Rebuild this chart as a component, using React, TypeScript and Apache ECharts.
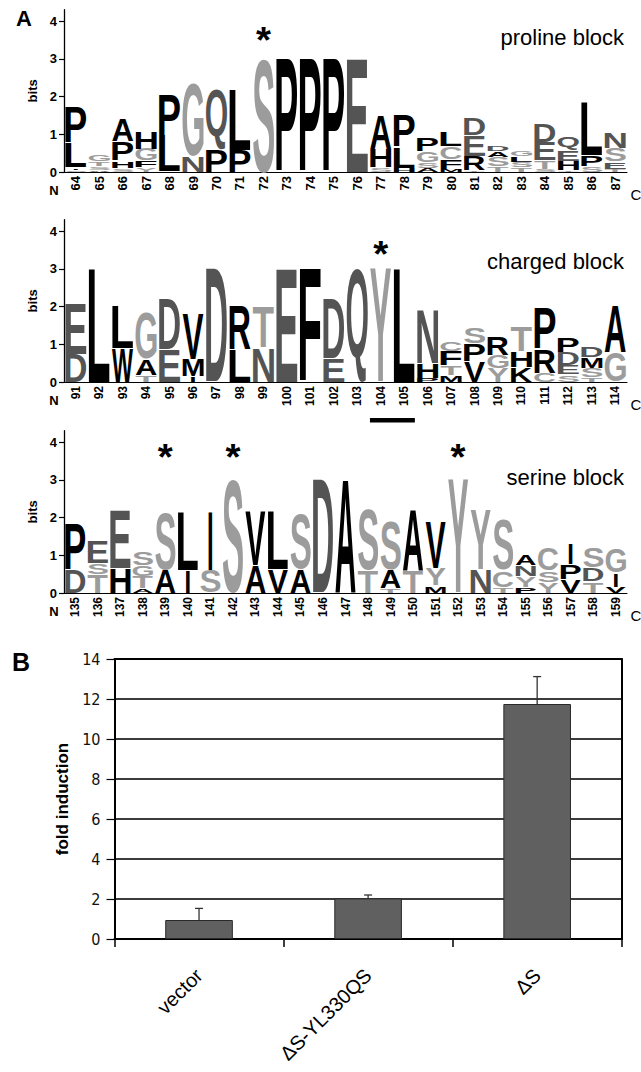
import React, { useEffect, useRef } from 'react';
import * as echarts from 'echarts';

const SANS = "'Liberation Sans', Arial, Helvetica, sans-serif";
const NARROW = "'Liberation Sans Narrow', 'DejaVu Sans Condensed', 'Liberation Sans', sans-serif";
const AMINO = 'ACDEFGHIKLMNPQRSTVWY*';

type Stack = [string, number][];

// ---------- Panel A: sequence logos (letter, height in bits; bottom to top) ----------
const prolinePositions = ['64', '65', '66', '67', '68', '69', '70', '71', '72', '73', '74', '75', '76', '77', '78', '79', '80', '81', '82', '83', '84', '85', '86', '87'];
const prolineStacks: Stack[] = [
  [['S', 0.06], ['I', 0.06], ['L', 0.66], ['P', 0.93]],
  [['A', 0.06], ['S', 0.1], ['T', 0.12], ['G', 0.2]],
  [['S', 0.1], ['H', 0.2], ['P', 0.5], ['A', 0.6]],
  [['Y', 0.12], ['F', 0.18], ['G', 0.32], ['H', 0.45]],
  [['L', 0.95], ['P', 1.07]],
  [['N', 0.42], ['G', 1.93]],
  [['P', 0.6], ['Q', 1.6]],
  [['P', 0.6], ['L', 1.62]],
  [['S', 3.02]],
  [['P', 3.02]],
  [['P', 3.02]],
  [['P', 3.02]],
  [['E', 3.02]],
  [['S', 0.12], ['H', 0.5], ['A', 0.9]],
  [['H', 0.12], ['L', 0.55], ['P', 0.85]],
  [['A', 0.1], ['S', 0.15], ['G', 0.3], ['P', 0.35]],
  [['M', 0.08], ['F', 0.27], ['C', 0.32], ['L', 0.38]],
  [['T', 0.05], ['R', 0.38], ['E', 0.55], ['D', 0.47]],
  [['T', 0.15], ['S', 0.25], ['A', 0.15], ['D', 0.15]],
  [['T', 0.12], ['S', 0.15], ['L', 0.15], ['G', 0.15]],
  [['S', 0.08], ['T', 0.22], ['E', 0.5], ['D', 0.5]],
  [['T', 0.06], ['H', 0.24], ['E', 0.28], ['Q', 0.38]],
  [['S', 0.15], ['P', 0.3], ['L', 1.4]],
  [['T', 0.08], ['E', 0.2], ['S', 0.35], ['N', 0.42]],
];
const prolineStars: [string, number][] = [['72', 3.63]];

const chargedPositions = ['91', '92', '93', '94', '95', '96', '97', '98', '99', '100', '101', '102', '103', '104', '105', '106', '107', '108', '109', '110', '111', '112', '113', '114'];
const chargedStacks: Stack[] = [
  [['D', 0.75], ['E', 1.33]],
  [['L', 3.02]],
  [['W', 0.9], ['L', 1.14]],
  [['T', 0.18], ['A', 0.42], ['G', 1.25]],
  [['E', 0.85], ['D', 1.35]],
  [['I', 0.15], ['M', 0.45], ['V', 1.2]],
  [['D', 3.02]],
  [['L', 0.88], ['R', 1.18]],
  [['N', 0.92], ['T', 1.08]],
  [['E', 3.02]],
  [['F', 3.02]],
  [['E', 0.62], ['D', 1.58]],
  [['Q', 3.02]],
  [['Y', 3.02]],
  [['L', 3.02]],
  [['P', 0.12], ['H', 0.38], ['N', 1.43]],
  [['M', 0.18], ['T', 0.27], ['F', 0.38], ['C', 0.27]],
  [['V', 0.55], ['P', 0.47], ['S', 0.45]],
  [['Y', 0.38], ['G', 0.35], ['R', 0.5]],
  [['K', 0.38], ['H', 0.42], ['T', 0.68]],
  [['C', 0.25], ['R', 0.62], ['P', 1.08]],
  [['S', 0.2], ['E', 0.25], ['D', 0.35], ['P', 0.4]],
  [['T', 0.12], ['S', 0.25], ['M', 0.28], ['D', 0.3]],
  [['G', 0.8], ['A', 1.25]],
];
const chargedStars: [string, number][] = [['104', 3.54]];
const chargedUnderline: [string, string] = ['104', '105'];

const serinePositions = ['135', '136', '137', '138', '139', '140', '141', '142', '143', '144', '145', '146', '147', '148', '149', '150', '151', '152', '153', '154', '155', '156', '157', '158', '159'];
const serineStacks: Stack[] = [
  [['D', 0.62], ['P', 1.23]],
  [['T', 0.5], ['S', 0.3], ['E', 0.6]],
  [['H', 0.66], ['E', 1.54]],
  [['A', 0.12], ['T', 0.33], ['G', 0.3], ['S', 0.38]],
  [['A', 0.62], ['S', 1.5]],
  [['I', 0.6], ['L', 1.55]],
  [['S', 0.6], ['I', 1.55]],
  [['S', 3.02]],
  [['A', 0.75], ['V', 1.43]],
  [['V', 0.62], ['L', 1.55]],
  [['A', 0.62], ['S', 1.48]],
  [['D', 3.02]],
  [['A', 3.02]],
  [['T', 0.6], ['S', 1.62]],
  [['T', 0.12], ['A', 0.5], ['S', 1.3]],
  [['T', 0.6], ['A', 1.62]],
  [['M', 0.2], ['Y', 0.45], ['V', 1.25]],
  [['Y', 3.02]],
  [['N', 0.62], ['Y', 1.58]],
  [['T', 0.15], ['C', 0.45], ['S', 1.35]],
  [['P', 0.16], ['Y', 0.3], ['N', 0.28], ['A', 0.28]],
  [['Y', 0.3], ['S', 0.3], ['C', 0.6]],
  [['V', 0.36], ['P', 0.4], ['I', 0.57]],
  [['T', 0.3], ['D', 0.37], ['S', 0.53]],
  [['V', 0.17], ['I', 0.37], ['G', 0.65]],
];
const serineStars: [string, number][] = [['139', 3.75], ['142', 3.75], ['152', 3.75]];

const logoTitles = ['proline block', 'charged block', 'serine block'];
const bitTicks = [0, 1, 2, 3, 4];

// ---------- Panel B: bar chart ----------
const barCategories = ['vector', 'ΔS-YL330QS', 'ΔS'];
const barValues = [0.95, 2.03, 11.75];
const barErrors = [0.58, 0.17, 1.37];

// ---------- helpers ----------
const DARK_SET = 'DEQN';
const LIGHT_SET = 'SGTYC';
function letterColor(ch: string) {
  if (DARK_SET.includes(ch)) return '#545454';
  if (LIGHT_SET.includes(ch)) return '#9c9c9c';
  return '#000000';
}

const GLYPH_FONT = `bold 100px ${SANS}`;
let alphaOffset: number | null = null; // alphabetic baseline position below the SVG 'central' baseline
function getAlphaOffset() {
  if (alphaOffset != null) return alphaOffset;
  let off = 0;
  try {
    const ns = 'http://www.w3.org/2000/svg';
    const svg = document.createElementNS(ns, 'svg');
    svg.setAttribute('width', '300');
    svg.setAttribute('height', '300');
    (svg as any).style.position = 'absolute';
    (svg as any).style.left = '-2000px';
    (svg as any).style.top = '0px';
    const mk = (db: string) => {
      const t = document.createElementNS(ns, 'text');
      t.setAttribute('x', '0');
      t.setAttribute('y', '150');
      t.setAttribute('dominant-baseline', db);
      t.setAttribute('style', `font: ${GLYPH_FONT}`);
      t.textContent = 'H';
      svg.appendChild(t);
      return t as SVGTextElement;
    };
    const a = mk('alphabetic');
    const c = mk('central');
    document.body.appendChild(svg);
    off = c.getBBox().y - a.getBBox().y;
    document.body.removeChild(svg);
  } catch (e) {
    off = 34;
  }
  alphaOffset = off;
  return off;
}

const glyphCache: Record<string, { L: number; R: number; A: number; D: number }> = {};
function glyphBox(ch: string) {
  if (!glyphCache[ch]) {
    const ctx = document.createElement('canvas').getContext('2d') as CanvasRenderingContext2D;
    ctx.font = GLYPH_FONT;
    ctx.textBaseline = 'alphabetic';
    ctx.textAlign = 'left';
    const m = ctx.measureText(ch);
    glyphCache[ch] = {
      L: m.actualBoundingBoxLeft,
      R: m.actualBoundingBoxRight,
      A: m.actualBoundingBoxAscent,
      D: m.actualBoundingBoxDescent,
    };
  }
  return glyphCache[ch];
}

function fitGlyph(ch: string, left: number, top: number, w: number, h: number, fill: string) {
  const g = glyphBox(ch);
  const c = getAlphaOffset();
  const sx = w / Math.max(1, g.L + g.R);
  const sy = h / Math.max(1, g.A + g.D);
  return {
    type: 'text',
    x: left + g.L * sx,
    y: top - (c - g.A) * sy,
    scaleX: sx,
    scaleY: sy,
    style: { text: ch, font: GLYPH_FONT, fill, align: 'left', verticalAlign: 'middle' },
  };
}

function renderLetter(params: any, api: any) {
  const col = api.value(0);
  const y0 = api.value(1);
  const y1 = api.value(2);
  const ch = AMINO[api.value(3)];
  const b = api.coord([col, y0]);
  const t = api.coord([col, y1]);
  const band = api.size([1, 0])[0];
  const w = ch === 'I' ? band * 0.17 : band * 0.9;
  const top = t[1] + 0.7;
  const h = b[1] - top;
  if (h < 0.4) return null;
  return fitGlyph(ch, b[0] - w / 2, top, w, h, letterColor(ch));
}

function renderStar(params: any, api: any) {
  const c = api.coord([api.value(0), api.value(1)]);
  return fitGlyph('*', c[0] - 7.5, c[1] - 7, 15, 14, '#000');
}

function renderUnderline(params: any, api: any) {
  const a = api.coord([api.value(0), 0]);
  const b = api.coord([api.value(1), 0]);
  const band = api.size([1, 0])[0];
  return {
    type: 'rect',
    shape: { x: a[0] - band / 2 + 1, y: a[1] + 36, width: b[0] - a[0] + band - 2, height: 4.5 },
    style: { fill: '#000' },
  };
}

function renderError(params: any, api: any) {
  const i = api.value(0);
  const p0 = api.coord([i, api.value(1)]);
  const p1 = api.coord([i, api.value(2)]);
  const st = { stroke: '#333', lineWidth: 1.3 };
  return {
    type: 'group',
    children: [
      { type: 'line', shape: { x1: p0[0], y1: p0[1], x2: p1[0], y2: p1[1] }, style: st },
      { type: 'line', shape: { x1: p1[0] - 4, y1: p1[1], x2: p1[0] + 4, y2: p1[1] }, style: st },
    ],
  };
}

function stackData(stacks: Stack[]) {
  const data: number[][] = [];
  stacks.forEach((stack, i) => {
    let y = 0;
    stack.forEach(([l, h]) => {
      data.push([i, y, y + h, AMINO.indexOf(l)]);
      y += h;
    });
  });
  return data;
}

const LOGO_BASELINES = [172, 382, 593];
const LOGO_H = 162.3;
const LOGO_FONTS = [13, 12, 12];

export default function App() {
  const ref = useRef<HTMLDivElement>(null);
  useEffect(() => {
    if (!ref.current) return;
    getAlphaOffset();
    const chart = echarts.init(ref.current, null, { renderer: 'svg' });
    const logos = [
      { pos: prolinePositions, stacks: prolineStacks, stars: prolineStars },
      { pos: chargedPositions, stacks: chargedStacks, stars: chargedStars },
      { pos: serinePositions, stacks: serineStacks, stars: serineStars },
    ];
    const grids: any[] = [];
    const xAxes: any[] = [];
    const yAxes: any[] = [];
    const series: any[] = [];
    const graphics: any[] = [];
    logos.forEach((lg, k) => {
      grids.push({
        left: 64, right: 14, top: LOGO_BASELINES[k] - LOGO_H, height: LOGO_H,
        containLabel: false, outerBoundsMode: 'none',
      });
      xAxes.push({
        type: 'category', gridIndex: k, data: lg.pos, boundaryGap: true,
        axisLine: { show: true, lineStyle: { color: '#000', width: 1 } },
        axisTick: { show: false },
        axisLabel: { interval: 0, rotate: 90, margin: 4, fontSize: LOGO_FONTS[k], fontWeight: 'bold', color: '#000', fontFamily: SANS },
        splitLine: { show: false },
      });
      yAxes.push({
        type: 'value', gridIndex: k, min: 0, max: 4.3, interval: 1,
        name: 'bits', nameLocation: 'middle', nameGap: 18, nameRotate: 90,
        nameTextStyle: { fontWeight: 'bold', fontSize: 13, color: '#000', fontFamily: SANS },
        axisLine: { show: true, lineStyle: { color: '#000', width: 1.3 } },
        axisTick: { show: true, length: 5, customValues: bitTicks, lineStyle: { color: '#000', width: 1.2 } },
        axisLabel: {
          customValues: bitTicks, margin: 7, fontSize: 13, fontWeight: 'bold', color: '#000', fontFamily: SANS,
          formatter: (v: number) => (Number.isInteger(v) ? String(v) : ''),
        },
        splitLine: { show: false },
      });
      series.push({
        type: 'custom', xAxisIndex: k, yAxisIndex: k, clip: false, silent: true,
        encode: { x: 0, y: [1, 2] },
        data: stackData(lg.stacks), renderItem: renderLetter,
      });
      series.push({
        type: 'custom', xAxisIndex: k, yAxisIndex: k, clip: false, silent: true,
        encode: { x: 0, y: 1 },
        data: lg.stars.map(([p, b]) => [lg.pos.indexOf(p), b]), renderItem: renderStar,
      });
      const base = LOGO_BASELINES[k];
      graphics.push({ type: 'text', x: 54, y: base + 18, style: { text: 'N', font: `bold 13px ${SANS}`, fill: '#000', align: 'center', verticalAlign: 'middle' } });
      graphics.push({ type: 'text', x: 636, y: base + 22, style: { text: 'C', font: `15px ${SANS}`, fill: '#000', align: 'center', verticalAlign: 'middle' } });
    });
    graphics.push({ type: 'text', x: 624, y: 37, style: { text: logoTitles[0], font: `22px ${SANS}`, fill: '#000', align: 'right', verticalAlign: 'middle' } });
    graphics.push({ type: 'text', x: 624, y: 261, style: { text: logoTitles[1], font: `22px ${SANS}`, fill: '#000', align: 'right', verticalAlign: 'middle' } });
    graphics.push({ type: 'text', x: 624, y: 477, style: { text: logoTitles[2], font: `22px ${SANS}`, fill: '#000', align: 'right', verticalAlign: 'middle' } });
    graphics.push({ type: 'text', x: 24, y: 18, style: { text: 'A', font: `bold 22px ${SANS}`, fill: '#000', align: 'center', verticalAlign: 'middle' } });
    graphics.push({ type: 'text', x: 21, y: 662, style: { text: 'B', font: `bold 25px ${SANS}`, fill: '#000', align: 'center', verticalAlign: 'middle' } });

    series.push({
      type: 'custom', xAxisIndex: 1, yAxisIndex: 1, clip: false, silent: true,
      encode: { x: [0, 1] },
      data: [[chargedPositions.indexOf(chargedUnderline[0]), chargedPositions.indexOf(chargedUnderline[1])]],
      renderItem: renderUnderline,
    });

    // Panel B
    grids.push({ left: 114.5, right: 19.3, top: 659, bottom: 133, show: false, containLabel: false, outerBoundsMode: 'none' });
    xAxes.push({
      type: 'category', gridIndex: 3, data: barCategories,
      axisLine: { show: true, lineStyle: { color: '#000', width: 2 } },
      axisTick: { show: true, alignWithLabel: false, length: 8, lineStyle: { color: '#000', width: 1.5 } },
      axisLabel: { interval: 0, rotate: 45, margin: 33, fontSize: 20, color: '#000', fontFamily: SANS },
      splitLine: { show: false },
    });
    xAxes.push({
      type: 'category', gridIndex: 3, data: barCategories, position: 'top',
      axisLine: { show: true, onZero: false, lineStyle: { color: '#000', width: 2 } },
      axisTick: { show: false }, axisLabel: { show: false }, splitLine: { show: false },
    });
    yAxes.push({
      type: 'value', gridIndex: 3, min: 0, max: 14, interval: 2,
      name: 'fold induction', nameLocation: 'middle', nameGap: 41, nameRotate: 90,
      nameTextStyle: { fontWeight: 'bold', fontSize: 17, color: '#000', fontFamily: SANS },
      axisLine: { show: true, lineStyle: { color: '#000', width: 2 } },
      axisTick: { show: true, length: 8, lineStyle: { color: '#000', width: 1.2 } },
      axisLabel: { margin: 14, fontSize: 16, color: '#111', fontFamily: NARROW },
      splitLine: { show: true, lineStyle: { color: '#3c3c3c', width: 2, type: 'solid' } },
    });
    yAxes.push({
      type: 'value', gridIndex: 3, min: 0, max: 14, interval: 2, position: 'right',
      axisLine: { show: true, onZero: false, lineStyle: { color: '#000', width: 2 } },
      axisTick: { show: false }, axisLabel: { show: false }, splitLine: { show: false },
    });
    series.push({
      type: 'bar', xAxisIndex: 3, yAxisIndex: 3, data: barValues, barWidth: '40%',
      itemStyle: { color: '#606060', borderColor: '#2a2a2a', borderWidth: 1 },
      silent: true, z: 3,
    });
    series.push({
      type: 'custom', xAxisIndex: 3, yAxisIndex: 3, silent: true, clip: false,
      encode: { x: 0, y: [1, 2] },
      data: barValues.map((v, i) => [i, v, v + barErrors[i]]),
      renderItem: renderError, z: 5,
    });

    chart.setOption({
      animation: false,
      backgroundColor: '#ffffff',
      textStyle: { fontFamily: SANS },
      grid: grids,
      xAxis: xAxes,
      yAxis: yAxes,
      series,
      graphic: graphics,
    });
    return () => chart.dispose();
  }, []);
  return (
    <div
      ref={ref}
      style={{ position: 'absolute', left: 0, top: 0, width: 641, height: 1072, background: '#fff' }}
    />
  );
}
